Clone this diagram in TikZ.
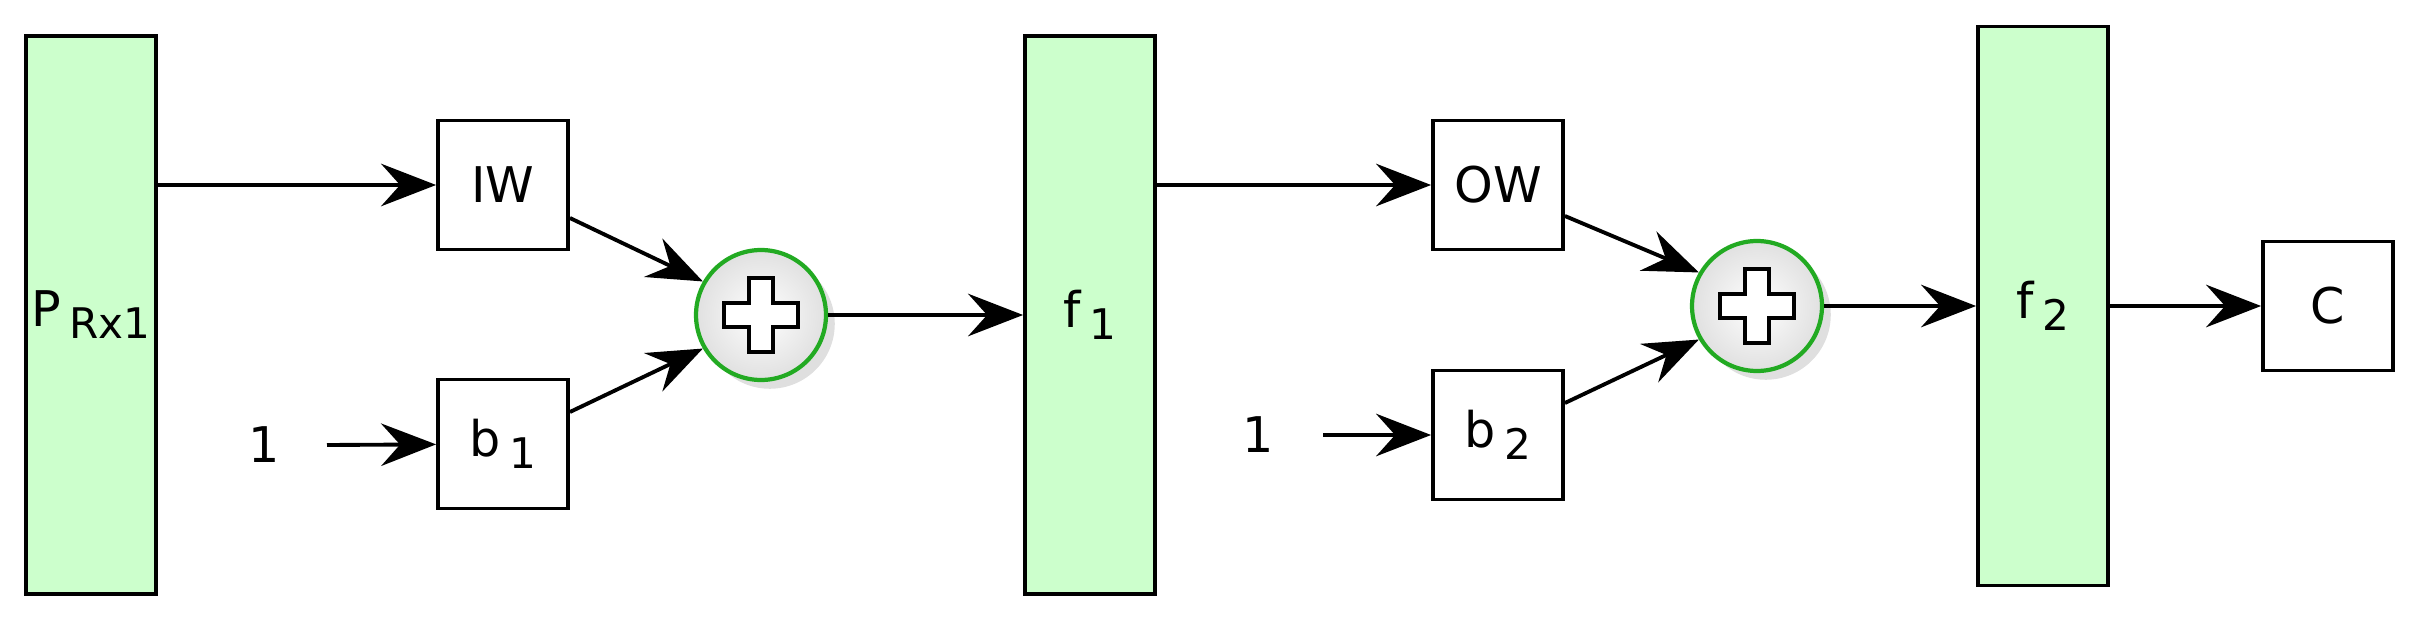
\documentclass[tikz,border=0pt]{standalone}
\usepackage{fontspec}
\setmainfont{DejaVu Sans}
\usetikzlibrary{arrows.meta,shadows,calc}
\newcommand{\lsub}[1]{\,\raisebox{-0.45ex}{\fontsize{24}{28}\selectfont #1}}
\begin{document}
\begin{tikzpicture}[x=0.02cm,y=-0.02cm,
 every node/.style={font=\fontsize{28}{33}\selectfont},
 tall/.style={draw,line width=2.2pt,fill={rgb,255:red,204;green,255;blue,204},minimum width=2.6cm,inner sep=0},
 box/.style={draw,line width=2.2pt,fill=white,minimum width=2.6cm,minimum height=2.58cm,inner sep=0},
 sum/.style={circle,draw={rgb,255:red,34;green,170;blue,34},line width=2.4pt,minimum size=2.6cm,inner sep=0,
   shading=radial,inner color=white,outer color=black!12,drop shadow={opacity=0.25,shadow xshift=5pt,shadow yshift=-5pt}},
 arr/.style={line width=2.2pt,-{Stealth[length=1.1cm,width=0.85cm,inset=0.38cm]}}]
\useasboundingbox (0,0) rectangle (2421,622);
\node[tall,minimum height=11.16cm] (P) at (91,315) {P\lsub{Rx1}};
\node[box] (IW) at (503,185) {IW};
\node[box] (b1) at (503,444) {b\lsub{1}};
\node[sum] (s1) at (761,315) {};
\node (one1) at (264,445) {1};
\coordinate (o1) at (327,445);
\node[tall,minimum height=11.16cm] (f1) at (1090,315) {f\lsub{1}};
\node[box] (OW) at (1498,185) {OW};
\node[box] (b2) at (1498,435) {b\lsub{2}};
\node[sum] (s2) at (1757,306) {};
\node (one2) at (1258,435) {1};
\coordinate (o2) at (1323,435);
\node[tall,minimum height=11.18cm] (f2) at (2043,306) {f\lsub{2}};
\node[box] (C) at (2328,306) {C};
\foreach \s in {s1,s2}{
 \draw[line width=2.2pt,fill=white] ($(\s)+(-12,-37)$) -- ++(24,0) -- ++(0,25) -- ++(25,0) -- ++(0,24) -- ++(-25,0) -- ++(0,25) -- ++(-24,0) -- ++(0,-25) -- ++(-25,0) -- ++(0,-24) -- ++(25,0) -- cycle;}
\draw[arr] (P.east |- IW) -- (IW);
\draw[arr] (o1) -- (b1);
\draw[arr] (IW.east |- 0,218) -- (s1.150);
\draw[arr] (b1.east |- 0,412) -- (s1.210);
\draw[arr] (s1) -- (f1.west |- s1);
\draw[arr] (f1.east |- OW) -- (OW);
\draw[arr] (o2) -- (b2);
\draw[arr] (OW.east |- 0,216) -- (s2.150);
\draw[arr] (b2.east |- 0,403) -- (s2.210);
\draw[arr] (s2) -- (f2.west |- s2);
\draw[arr] (f2) -- (C);
\end{tikzpicture}
\end{document}
